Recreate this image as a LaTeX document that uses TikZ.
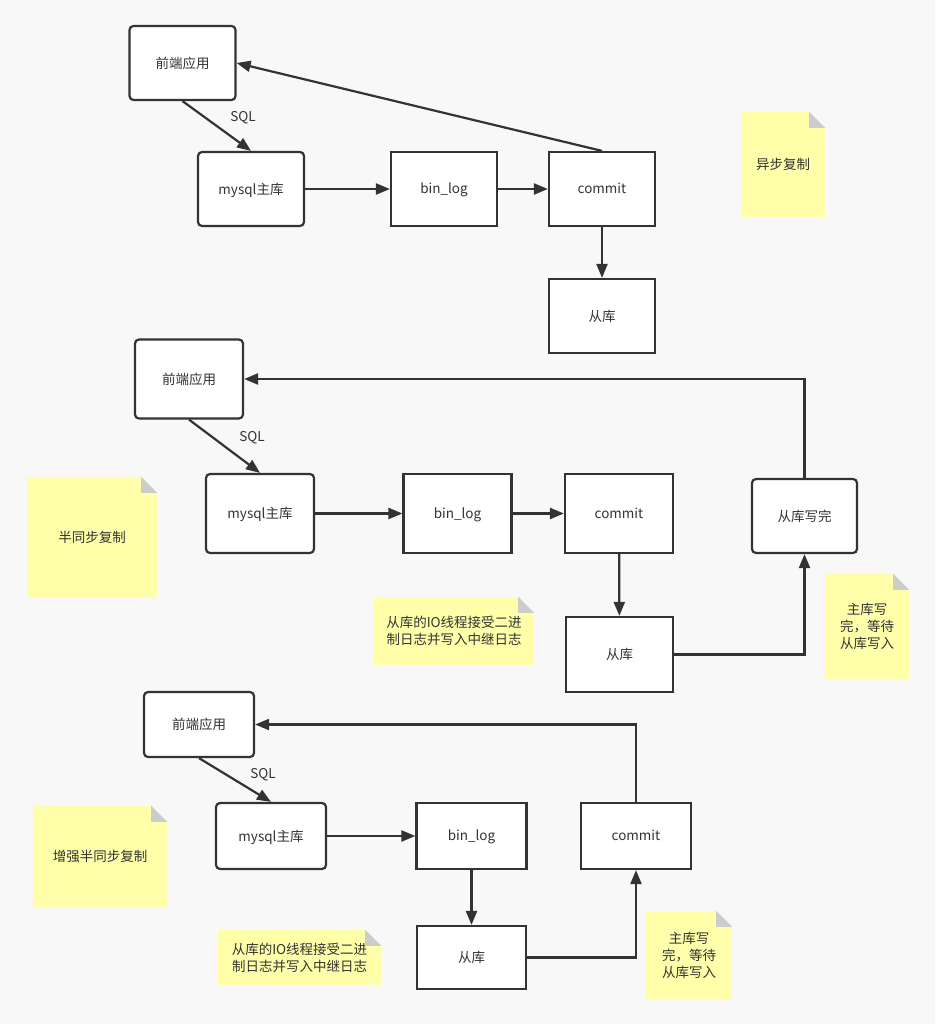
\documentclass[tikz,border=0pt]{standalone}
\usepackage{fontspec}
\setmainfont{Noto Sans CJK SC}
\usetikzlibrary{arrows.meta}
\definecolor{bgc}{HTML}{F8F8F8}
\definecolor{linec}{HTML}{333333}
\definecolor{notec}{HTML}{FFFFAA}
\definecolor{foldc}{HTML}{CCCCCC}

\begin{document}
\begin{tikzpicture}[x=1pt,y=-1pt,font=\fontsize{13.5}{17}\selectfont]
\fill[bgc] (0,0) rectangle (935,1024);
\tikzstyle{block} = [draw=linec,line width=2.2pt,fill=white,rectangle,text=linec,inner sep=0pt,minimum width=106,minimum height=74,text depth=1pt]
\tikzstyle{rblock} = [block,rounded corners=4pt]
\tikzstyle{note} = [fill=notec,text=linec,align=center,inner sep=0pt]
\tikzstyle{edge} = [-{Triangle[length=14pt,width=11pt]},line width=2.2pt,draw=linec]
\tikzstyle{lbl} = [text=linec]
% async
\node[rblock] (fe1) at (182.5,63) {前端应用};
\node[rblock] (ms1) at (251,189) {mysql主库};
\node[block] (bl1) at (444,189) {bin\_log};
\node[block] (cm1) at (602,189) {commit};
\node[block] (sl1) at (602,316) {从库};
\node[lbl] (sql1) at (243,118) {SQL};
\draw[edge] (fe1.south) -- (ms1.north);
\draw[edge] (ms1) -- (bl1);
\draw[edge] (bl1) -- (cm1);
\draw[edge] (cm1) -- (sl1);
\draw[edge] (cm1.north) -- (fe1.east);
\node[note,minimum width=84,minimum height=105] (n1) at (783,164.5) {异步复制};
% semi sync
\node[rblock,minimum width=108,minimum height=79] (fe2) at (189,379) {前端应用};
\node[rblock,minimum width=108,minimum height=79] (ms2) at (260,513.5) {mysql主库};
\node[block,minimum width=108,minimum height=79] (bl2) at (457.5,513.5) {bin\_log};
\node[block,minimum width=108,minimum height=79] (cm2) at (619,513.5) {commit};
\node[block,minimum width=107,minimum height=75] (sl2) at (619.5,654.5) {从库};
\node[rblock,minimum width=105,minimum height=74] (sw2) at (804.5,516) {从库写完};
\node[lbl] (sql2) at (252,438) {SQL};
\draw[edge] (fe2.south) -- (ms2.north);
\draw[edge] (ms2) -- (bl2);
\draw[edge] (bl2) -- (cm2);
\draw[edge] (cm2) -- (sl2);
\draw[edge] (sl2.east) -| (sw2.south);
\draw[edge] (sw2.north) |- (fe2.east);
\node[note,minimum width=130,minimum height=121] (n2) at (92,537.5) {半同步复制};
\node[note,minimum width=160,minimum height=68] (n3) at (454,631) {从库的IO线程接受二进\\制日志并写入中继日志};
\node[note,minimum width=84,minimum height=105] (n4) at (867,626.5) {主库写\\完，等待\\从库写入};
% enhanced semi sync
\node[rblock,minimum width=110,minimum height=65] (fe3) at (199,724.5) {前端应用};
\node[rblock,minimum width=110,minimum height=66] (ms3) at (271,836) {mysql主库};
\node[block,minimum width=110,minimum height=66] (bl3) at (471.5,836) {bin\_log};
\node[block,minimum width=110,minimum height=66] (cm3) at (636,836) {commit};
\node[block,minimum width=109,minimum height=63] (sl3) at (471.5,957.5) {从库};
\node[lbl] (sql3) at (263,775) {SQL};
\draw[edge] (fe3.south) -- (ms3.north);
\draw[edge] (ms3) -- (bl3);
\draw[edge] (bl3) -- (sl3);
\draw[edge] (sl3.east) -| (cm3.south);
\draw[edge] (cm3.north) |- (fe3.east);
\node[note,minimum width=134,minimum height=101] (n5) at (100,856.5) {增强半同步复制};
\node[note,minimum width=163,minimum height=55] (n6) at (299.5,957.5) {从库的IO线程接受二进\\制日志并写入中继日志};
\node[note,minimum width=86,minimum height=88] (n7) at (689,955) {主库写\\完，等待\\从库写入};
% folded corners
\foreach \n in {n1,n2,n3,n4,n5,n6,n7} {
  \fill[bgc] (\n.north east) ++(-16,0) -- (\n.north east) -- ++(0,16) -- cycle;
  \fill[foldc] (\n.north east) ++(-16,0) -- ++(16,16) -- ++(-16,0) -- cycle;
}
\end{tikzpicture}
\end{document}
